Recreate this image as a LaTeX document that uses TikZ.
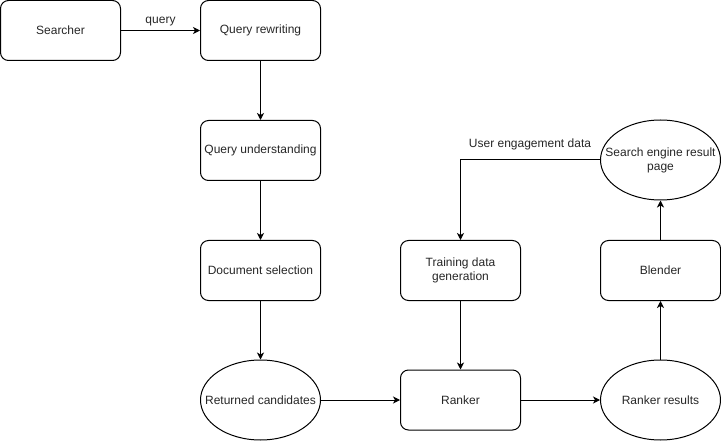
\documentclass[tikz,border=0pt]{standalone}
\usepackage{fontspec}
\setmainfont{Liberation Sans}
\usetikzlibrary{arrows.meta,shapes.geometric}
\begin{document}
\begin{tikzpicture}[x=1pt,y=-1pt,
  txt/.style={font=\fontsize{12}{14}\selectfont, align=center, text=black!85},
  box/.style={txt, draw, line width=1pt, rounded corners=8pt, minimum width=120pt, minimum height=60pt, inner sep=0pt},
  oval/.style={draw, line width=1pt, ellipse, minimum width=120pt, minimum height=80pt, inner sep=0pt},
  ovaltext/.style={label={[txt]center:#1}},
  conn/.style={line width=1pt, -{Stealth[length=7pt,width=7pt,inset=2pt]}}]
\useasboundingbox (0,0) rectangle (721,441);
\node[box] (searcher) at (60.5,30.5) {Searcher};
\node[box] (qr) at (260.5,30.5) {Query rewriting};
\node[box] (qu) at (260.5,150.5) {Query understanding};
\node[box] (ds) at (260.5,270.5) {Document selection};
\node[oval, ovaltext={Returned candidates}] (rc) at (260.5,400) {};
\node[box] (ranker) at (460.5,400) {Ranker};
\node[oval, ovaltext={Ranker results}] (rr) at (660.5,400) {};
\node[box] (blender) at (660.5,270.5) {Blender};
\node[oval, ovaltext={Search engine result\\page}] (serp) at (660.5,160) {};
\node[box] (tdg) at (460.5,270.5) {Training data\\generation};
\coordinate (bend) at (460.5,160);
\draw[conn] (searcher) -- node[txt, above, yshift=1pt] (ql) {query} (qr);
\draw[conn] (qr) -- (qu);
\draw[conn] (qu) -- (ds);
\draw[conn] (ds) -- (rc);
\draw[conn] (rc) -- (ranker);
\draw[conn] (ranker) -- (rr);
\draw[conn] (rr) -- (blender);
\draw[conn] (blender) -- (serp);
\draw[conn] (serp.west) -- (bend) -- (tdg);
\node[txt] (uel) at (530,144) {User engagement data};
\draw[conn] (tdg) -- (ranker);
\end{tikzpicture}
\end{document}
